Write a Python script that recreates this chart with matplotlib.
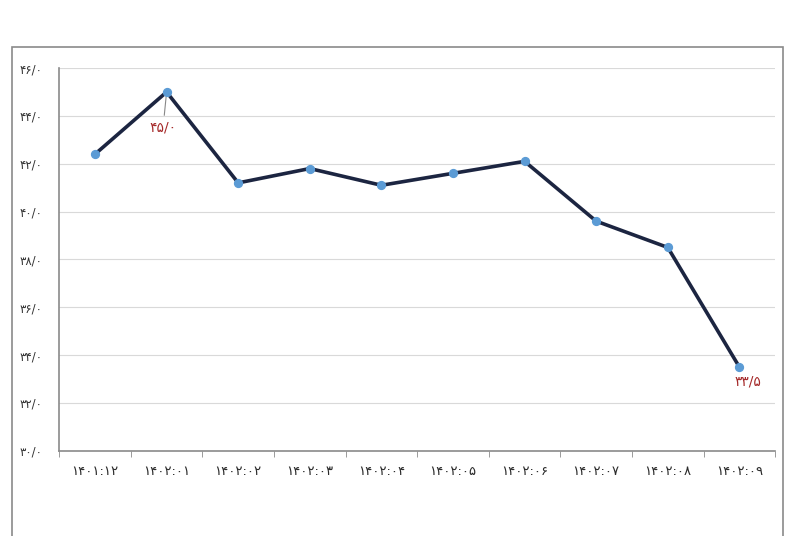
import matplotlib
matplotlib.use('Agg')
from matplotlib import pyplot as plt
from matplotlib.patches import Rectangle

# داده‌ها
periods = ['۱۴۰۱:۱۲', '۱۴۰۲:۰۱', '۱۴۰۲:۰۲', '۱۴۰۲:۰۳', '۱۴۰۲:۰۴',
           '۱۴۰۲:۰۵', '۱۴۰۲:۰۶', '۱۴۰۲:۰۷', '۱۴۰۲:۰۸', '۱۴۰۲:۰۹']
values = [42.4, 45.0, 41.2, 41.8, 41.1, 41.6, 42.1, 39.6, 38.5, 33.5]
y_ticks = [30, 32, 34, 36, 38, 40, 42, 44, 46]
y_labels = ['۳۰/۰', '۳۲/۰', '۳۴/۰', '۳۶/۰', '۳۸/۰',
            '۴۰/۰', '۴۲/۰', '۴۴/۰', '۴۶/۰']
labels_shown = {1: '۴۵/۰', 9: '۳۳/۵'}

plt.rcParams['font.family'] = ['DejaVu Sans', 'Noto Sans']

fig = plt.figure(figsize=(8, 5.36), dpi=100)
fig.patches.append(Rectangle((0.015, -0.1), 0.964, 1.012, transform=fig.transFigure,
                             fill=False, edgecolor='#8a8a8a', linewidth=1.2))

ax = fig.add_axes([0.074, 0.159, 0.895, 0.714])
x = list(range(len(values)))
ax.plot(x, values, color='#1c2541', linewidth=2.6, zorder=3)
ax.scatter(x, values, s=32, color='#5b9bd5', zorder=4)

ax.set_xlim(-0.5, len(values) - 0.5)
ax.set_ylim(30, 46)
ax.set_yticks(y_ticks)
ax.set_yticklabels(y_labels, fontsize=8.5, color='#333333')
ax.tick_params(axis='y', length=0, pad=12)
ax.set_xticks(x)
ax.set_xticklabels(periods, fontsize=9.5, color='#2a2a2a')
ax.set_xticks([i - 0.5 for i in range(len(values) + 1)], minor=True)
ax.tick_params(axis='x', which='major', length=0, pad=10)
ax.tick_params(axis='x', which='minor', length=4, color='#8a8a8a', direction='out')

ax.grid(axis='y', color='#d9d9d9', linewidth=0.8)
ax.set_axisbelow(True)
for side in ['top', 'right']:
    ax.spines[side].set_visible(False)
for side in ['left', 'bottom']:
    ax.spines[side].set_color('#8a8a8a')
    ax.spines[side].set_linewidth(1.2)

# برچسب‌های قرمز
ax.annotate(labels_shown[1], xy=(1, values[1]), xytext=(0.95, 43.5),
            ha='center', va='center', fontsize=10, color='#a52a2a',
            arrowprops=dict(arrowstyle='-', color='#888888', linewidth=0.8))
ax.text(9.12, 32.9, labels_shown[9], ha='center', va='center',
        fontsize=10, color='#a52a2a')

fig.savefig('out.png', dpi=100)
